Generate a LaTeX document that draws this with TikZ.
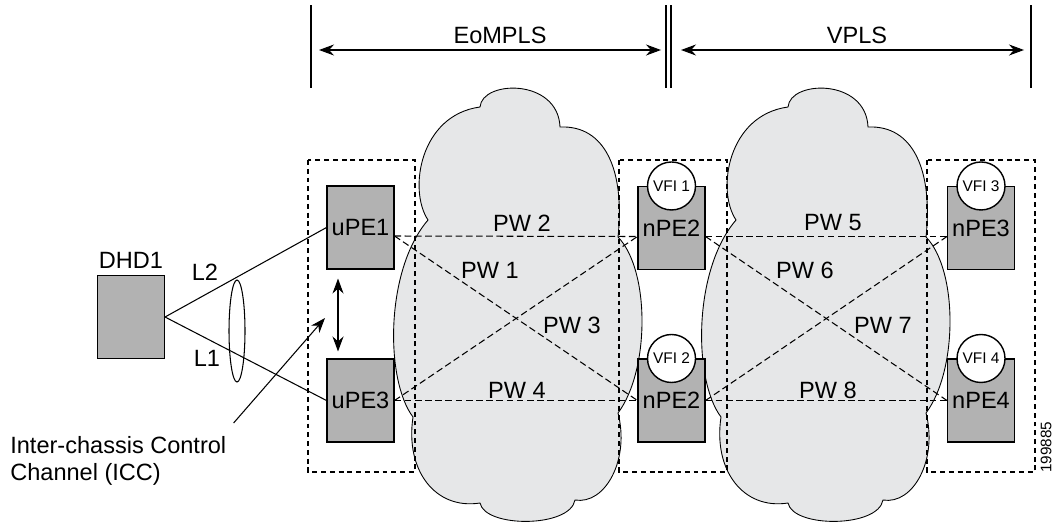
\documentclass[tikz,border=0pt]{standalone}
\usepackage{fontspec}
\setmainfont{Liberation Sans}
\usetikzlibrary{arrows.meta,shapes.geometric,positioning}
\definecolor{boxgray}{HTML}{B2B2B2}
\definecolor{cloudgray}{HTML}{E6E7E8}
\begin{document}
\begin{tikzpicture}[x=0.02cm,y=-0.02cm,font=\fontsize{13.4}{15.4}\selectfont,
  >={Stealth[length=0.3cm,width=0.22cm]},
  pebox/.style={draw,fill=boxgray,line width=0.6pt,minimum width=1.34cm,minimum height=1.66cm,inner sep=0pt},
  vfi/.style={circle,draw,fill=white,line width=0.8pt,minimum size=0.96cm,inner sep=0pt,font=\fontsize{8.8}{10}\selectfont},
  cloud/.style={draw,fill=cloudgray,line width=0.5pt},
  site/.style={line width=1.3pt,dash pattern=on 2.8pt off 2.2pt},
  pw/.style={line width=0.6pt,dash pattern=on 3.8pt off 2pt},
  link/.style={line width=0.6pt}]
\useasboundingbox (0,0) rectangle (1053,521);
\foreach \dx in {0,308}{
  \path[cloud,xshift=\dx*0.02cm] (428,220)
    .. controls (408,190) and (420,115) .. (480,107)
    .. controls (482,80) and (558,78) .. (560,127)
    .. controls (605,125) and (625,170) .. (618,237)
    .. controls (650,270) and (650,370) .. (618,413)
    .. controls (630,460) and (605,505) .. (575,500)
    .. controls (570,528) and (485,528) .. (480,503)
    .. controls (435,510) and (405,470) .. (413,417)
    .. controls (385,380) and (385,270) .. (428,220) -- cycle;
}
\draw[site] (308,160) rectangle (415,472);
\draw[site] (619,160) rectangle (727,472);
\draw[site] (927,160) rectangle (1035,472);
\draw[link] (311,5) -- (311,88);
\draw[link] (666,5) -- (666,88);
\draw[link] (671,5) -- (671,88);
\draw[link] (1031,5) -- (1031,88);
\coordinate (eoL) at (311,50);
\coordinate (eoR) at (666,50);
\coordinate (vpL) at (671,50);
\coordinate (vpR) at (1031,50);
\draw[<->,link,shorten <=0.16cm,shorten >=0.1cm] (eoL) -- (eoR);
\draw[<->,link,shorten <=0.2cm,shorten >=0.14cm] (vpL) -- (vpR);
\node (eompls) at (500,35) {EoMPLS};
\node (vpls) at (857,35) {VPLS};
\node[pebox] (dhd) at (131,317) {};
\node[above=0pt of dhd] (dhdlabel) {DHD1};
\node[pebox] (upe1) at (360.5,227.5) {uPE1};
\node[pebox] (upe3) at (360.5,400.5) {uPE3};
\node[pebox] (npe2a) at (671.5,228) {nPE2};
\node[pebox] (npe2b) at (671.5,400.5) {nPE2};
\node[pebox] (npe3) at (981,228) {nPE3};
\node[pebox] (npe4) at (981,400.5) {nPE4};
\node[vfi] (vfi1) at (npe2a.north) {VFI 1};
\node[vfi] (vfi2) at (npe2b.north) {VFI 2};
\node[vfi] (vfi3) at (npe3.north) {VFI 3};
\node[vfi] (vfi4) at (npe4.north) {VFI 4};
\draw[pw] ([yshift=-0.17cm]upe1.east) -- ([yshift=-0.17cm]npe2a.west);
\draw[pw] ([yshift=-0.17cm]upe1.east) -- (npe2b.west);
\draw[pw] (upe3.east) -- ([yshift=-0.17cm]npe2a.west);
\draw[pw] (upe3.east) -- (npe2b.west);
\draw[pw] ([yshift=-0.17cm]npe2a.east) -- ([yshift=-0.17cm]npe3.west);
\draw[pw] ([yshift=-0.17cm]npe2a.east) -- (npe4.west);
\draw[pw] (npe2b.east) -- ([yshift=-0.17cm]npe3.west);
\draw[pw] (npe2b.east) -- (npe4.west);
\foreach \n/\x/\y in {1/490/270,2/522/223,3/572/325,4/517/390,5/833/223,6/805/270,7/883/325,8/828/390}
  \node (pw\n) at (\x,\y) {PW \n};
\draw[link] (dhd.east) -- (upe1.west);
\draw[link] (dhd.east) -- (upe3.west);
\node[ellipse,draw,line width=0.6pt,minimum width=0.32cm,minimum height=2.04cm,inner sep=0pt] (lag) at (237,331) {};
\node (l2) at (205,272) {L2};
\node (l1) at (207,358) {L1};
\draw[<->,link,shorten <=0.18cm,shorten >=0.14cm] ([xshift=-0.45cm]upe1.south) -- ([xshift=-0.45cm]upe3.north);
\node[align=left,anchor=north west,inner sep=0pt] (icc) at (10,436) {Inter-chassis Control\\Channel (ICC)};
\coordinate (iccend) at (325,318);
\draw[->,link] ([shift={(0.14cm,0.26cm)}]icc.north east) -- (iccend);
\node[rotate=90,font=\fontsize{8.7}{10}\selectfont] (figid) at (1046,447) {199885};
\end{tikzpicture}
\end{document}
